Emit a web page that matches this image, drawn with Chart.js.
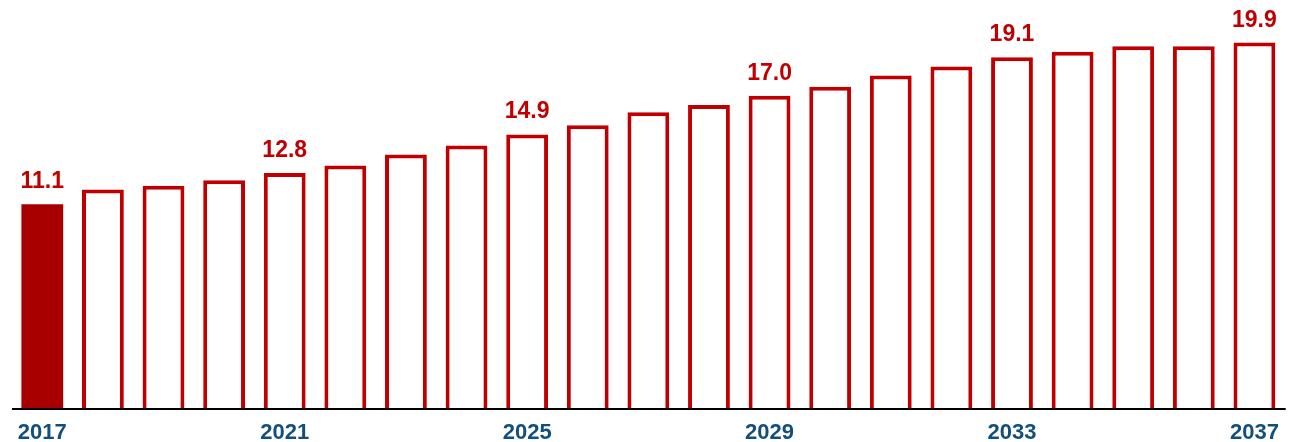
<!DOCTYPE html>
<html>
<head>
<meta charset="utf-8">
<script src="https://cdn.jsdelivr.net/npm/chart.js@4/dist/chart.umd.min.js"></script>
<style>
  html, body { margin: 0; padding: 0; background: #ffffff; }
  #wrap { width: 1291px; height: 442px; position: relative; }
</style>
</head>
<body>
<div id="wrap"><canvas id="c"></canvas></div>
<script>
const years = ['2017','2018','2019','2020','2021','2022','2023','2024','2025','2026','2027','2028','2029','2030','2031','2032','2033','2034','2035','2036','2037'];
const values = [11.1, 11.9, 12.1, 12.4, 12.8, 13.2, 13.8, 14.3, 14.9, 15.4, 16.1, 16.5, 17.0, 17.5, 18.1, 18.6, 19.1, 19.4, 19.7, 19.7, 19.9];
const shownTicks = ['2017','2021','2025','2029','2033','2037'];
const labelledYears = ['2017','2021','2025','2029','2033','2037'];

const RED = '#c00000';
const DARK_RED = '#a80000';
const BLUE = '#134f7c';

const valueLabels = {
  id: 'valueLabels',
  afterDatasetsDraw(chart) {
    const meta = chart.getDatasetMeta(0);
    const ctx = chart.ctx;
    const ca = chart.chartArea;
    ctx.save();
    // axis baseline drawn on top of the bars
    ctx.strokeStyle = '#000000';
    ctx.lineWidth = 2;
    ctx.beginPath();
    ctx.moveTo(ca.left, ca.bottom + 1);
    ctx.lineTo(ca.right + 1, ca.bottom + 1);
    ctx.stroke();
    ctx.font = 'bold 23px "Liberation Sans", Arial, sans-serif';
    ctx.fillStyle = RED;
    ctx.textAlign = 'center';
    ctx.textBaseline = 'alphabetic';
    years.forEach((y, i) => {
      if (labelledYears.includes(y)) {
        const el = meta.data[i];
        ctx.fillText(values[i].toFixed(1), el.x, el.y - 16);
      }
    });
    ctx.restore();
  }
};

new Chart(document.getElementById('c'), {
  type: 'bar',
  data: {
    labels: years,
    datasets: [{
      data: values,
      backgroundColor: values.map((v, i) => i === 0 ? DARK_RED : '#ffffff'),
      borderColor: values.map((v, i) => i === 0 ? DARK_RED : RED),
      borderWidth: values.map((v, i) => i === 0 ? 0 : 4),
      borderSkipped: 'start',
      barPercentage: 0.69,
      categoryPercentage: 1.0
    }]
  },
  options: {
    responsive: true,
    maintainAspectRatio: false,
    animation: false,
    layout: { padding: { left: 12, right: 5, top: 4, bottom: 0 } },
    plugins: { legend: { display: false }, tooltip: { enabled: false } },
    scales: {
      x: {
        grid: { display: false, drawTicks: false },
        border: { display: false },
        ticks: {
          autoSkip: false,
          maxRotation: 0,
          padding: 12,
          color: BLUE,
          font: { family: '"Liberation Sans", Arial, sans-serif', size: 22, weight: 'bold' },
          callback: function(val, idx) {
            const l = this.getLabelForValue(val);
            return shownTicks.includes(l) ? l : '';
          }
        },
        afterFit: (s) => { s.height = 34; }
      },
      y: {
        display: false,
        min: 0,
        max: 22
      }
    }
  },
  plugins: [valueLabels]
});
</script>
</body>
</html>
